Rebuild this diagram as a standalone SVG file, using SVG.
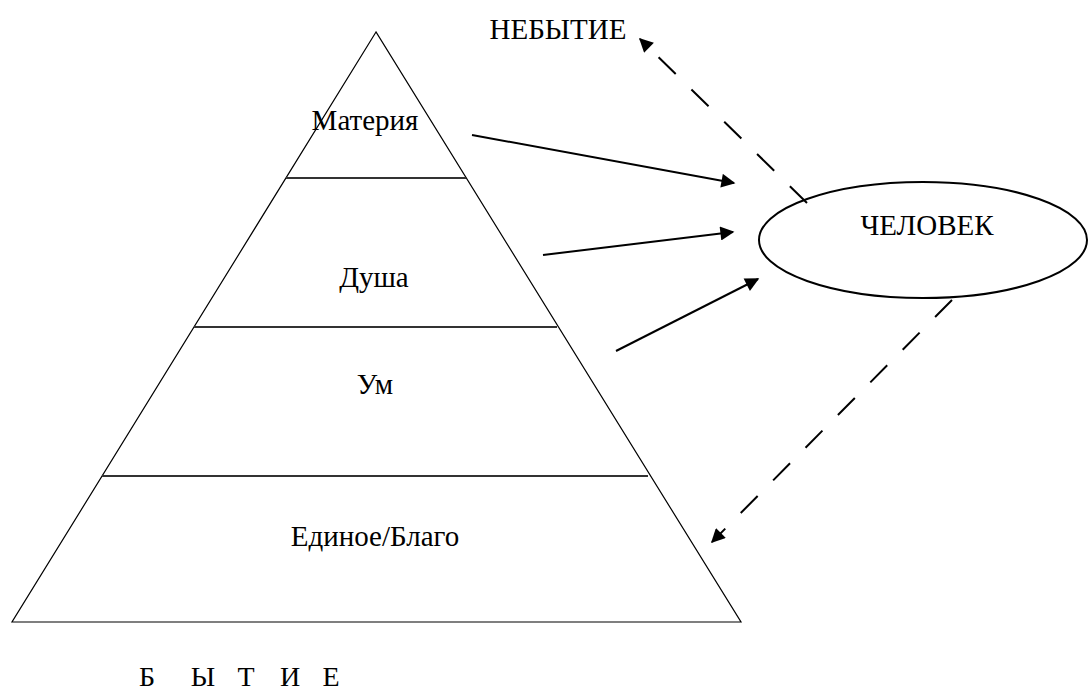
<svg xmlns="http://www.w3.org/2000/svg" width="1088" height="690" viewBox="0 0 1088 690">
<style>
text{font-family:"Liberation Serif","Times New Roman",serif;font-size:29px;fill:#000}
.bt{font-size:28px}
.edge{stroke:#000;stroke-width:1.2;fill:none}
.tier{stroke:#333;stroke-width:1.8}
.arr{stroke:#000;stroke-width:2;fill:none;marker-end:url(#ah)}
.dash{stroke-dasharray:24 22}
</style>
<defs>
<marker id="ah" viewBox="0 0 10 10" refX="9" refY="5" markerWidth="8" markerHeight="7" markerUnits="strokeWidth" orient="auto">
<path d="M0,0 L10,5 L0,10 z" fill="#000"/>
</marker>
</defs>
<rect width="1088" height="690" fill="#fff"/>
<g id="pyramid">
<path class="edge" d="M376,32 L12,622 L741,622 Z"/>
<line class="tier" x1="286" y1="178" x2="466" y2="178"/>
<line class="tier" x1="194" y1="327" x2="557" y2="327"/>
<line class="tier" x1="102" y1="476" x2="648" y2="476"/>
</g>
<g id="materia"><text x="365" y="130" text-anchor="middle">Материя</text></g>
<g id="dusha"><text x="374" y="287" text-anchor="middle">Душа</text></g>
<g id="um"><text x="375" y="394" text-anchor="middle">Ум</text></g>
<g id="edinoe"><text x="375" y="546" text-anchor="middle">Единое/Благо</text></g>
<g id="nebytie"><text x="558" y="39" text-anchor="middle">НЕБЫТИЕ</text></g>
<g id="chelovek">
<ellipse cx="923" cy="240" rx="164" ry="58" fill="none" stroke="#000" stroke-width="2"/>
<text x="927" y="235" text-anchor="middle">ЧЕЛОВЕК</text>
</g>
<g id="bytie">
<text class="bt" x="147" y="686" text-anchor="middle">Б</text>
<text class="bt" x="203" y="686" text-anchor="middle">Ы</text>
<text class="bt" x="246" y="686" text-anchor="middle">Т</text>
<text class="bt" x="290" y="686" text-anchor="middle">И</text>
<text class="bt" x="331" y="686" text-anchor="middle">Е</text>
</g>
<g id="connectors">
<line class="arr" x1="472" y1="135" x2="734" y2="183"/>
<line class="arr" x1="543" y1="255" x2="733" y2="232"/>
<line class="arr" x1="616" y1="351" x2="758" y2="279"/>
<line class="arr dash" x1="807" y1="203" x2="640" y2="39"/>
<line class="arr dash" x1="952" y1="300" x2="712" y2="542"/>
</g>
</svg>
